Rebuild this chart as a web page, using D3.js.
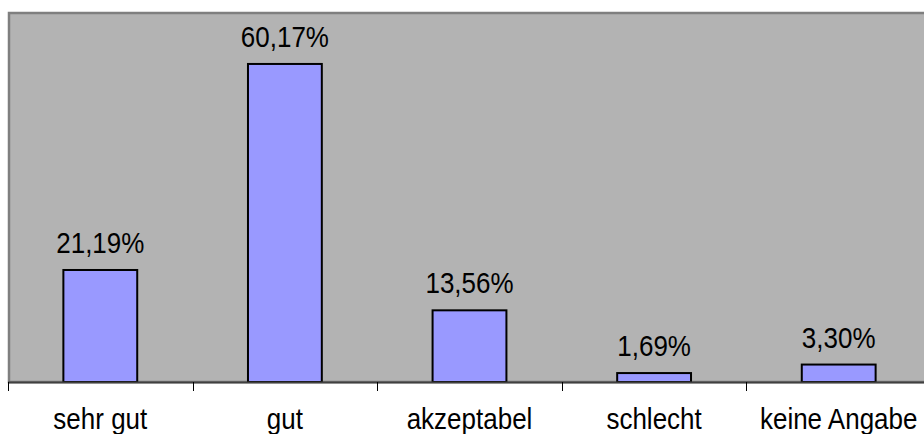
<!DOCTYPE html>
<html>
<head>
<meta charset="utf-8">
<script src="https://cdn.jsdelivr.net/npm/d3@7"></script>
<style>
  html, body { margin: 0; padding: 0; background: #ffffff; }
  svg { display: block; }
  text { font-family: "Liberation Sans", Arial, sans-serif; fill: #000; }
</style>
</head>
<body>
<svg id="chart" width="924" height="434"></svg>
<script>
// Bewertung der Befragten (Anteile in Prozent)
const categories = ["sehr gut", "gut", "akzeptabel", "schlecht", "keine Angabe"];
const values = [21.19, 60.17, 13.56, 1.69, 3.30];
const valueLabels = ["21,19%", "60,17%", "13,56%", "1,69%", "3,30%"];

const svg = d3.select("#chart");
const W = 924, H = 434;

const plot = { left: 8, top: 12, right: 931, bottom: 382 };
const textStretch = 1.11; // glyphs are drawn slightly taller than wide

const x = d3.scaleBand()
  .domain(categories)
  .range([plot.left, plot.right])
  .paddingInner(0)
  .paddingOuter(0);

const y = d3.scaleLinear()
  .domain([0, 70])
  .range([plot.bottom, plot.top]);

// Plot area background with border
svg.append("rect")
  .attr("x", plot.left + 1)
  .attr("y", plot.top + 1)
  .attr("width", plot.right - plot.left)
  .attr("height", plot.bottom - plot.top - 1)
  .attr("fill", "#b3b3b3")
  .attr("stroke", "#7f7f7f")
  .attr("stroke-width", 2.5);

// Bars: 40% of each category band, centred
const barW = x.bandwidth() * 0.4;
svg.append("g").selectAll("rect")
  .data(values)
  .join("rect")
  .attr("x", (d, i) => x(categories[i]) + (x.bandwidth() - barW) / 2)
  .attr("y", d => y(d))
  .attr("width", barW)
  .attr("height", d => y(0) - y(d))
  .attr("fill", "#9999ff")
  .attr("stroke", "#000")
  .attr("stroke-width", 2);

// Category axis line
svg.append("line")
  .attr("x1", plot.left).attr("x2", W)
  .attr("y1", plot.bottom + 0.5).attr("y2", plot.bottom + 0.5)
  .attr("stroke", "#404040")
  .attr("stroke-width", 2);

// Tick marks at band boundaries
const boundaries = categories.map(c => x(c)).concat([x.range()[1]]);
svg.append("g").selectAll("line")
  .data(boundaries)
  .join("line")
  .attr("x1", d => Math.round(d) + 0.5)
  .attr("x2", d => Math.round(d) + 0.5)
  .attr("y1", plot.bottom)
  .attr("y2", plot.bottom + 9)
  .attr("stroke", "#000")
  .attr("stroke-width", 1);

// Category labels
svg.append("g").selectAll("text")
  .data(categories)
  .join("text")
  .attr("transform", d => `translate(${x(d) + x.bandwidth() / 2},429) scale(1,${textStretch})`)
  .attr("text-anchor", "middle")
  .attr("font-size", 26)
  .text(d => d);

// Value labels above bars
svg.append("g").selectAll("text")
  .data(values)
  .join("text")
  .attr("transform", (d, i) => `translate(${x(categories[i]) + x.bandwidth() / 2},${y(d) - 17}) scale(1,${textStretch})`)
  .attr("text-anchor", "middle")
  .attr("font-size", 26)
  .text((d, i) => valueLabels[i]);
</script>
</body>
</html>
